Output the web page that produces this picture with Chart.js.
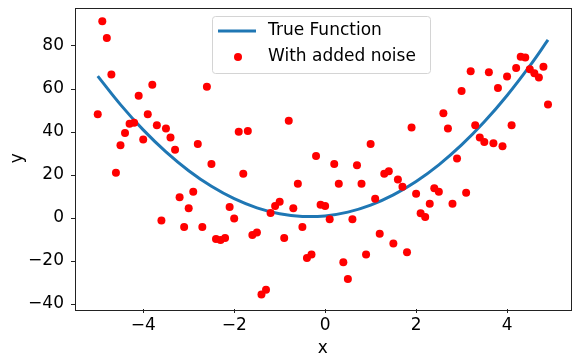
<!DOCTYPE html>
<html>
<head>
<meta charset="utf-8">
<script src="https://cdn.jsdelivr.net/npm/chart.js@4/dist/chart.umd.min.js"></script>
<style>
  html, body { margin: 0; padding: 0; background: #ffffff; }
  #wrap { width: 575px; height: 362px; position: relative; }
</style>
</head>
<body>
<div id="wrap"><canvas id="c" width="575" height="362"></canvas></div>
<script>
// ---- data ----
const curveLabel = 'True Function';
const noiseLabel = 'With added noise';

const curveX = [-5, -4.5, -4, -3.5, -3, -2.5, -2, -1.5, -1, -0.5, 0, 0.5, 1, 1.5, 2, 2.5, 3, 3.5, 4, 4.5, 4.9];
const curveY = [66, 52.75, 41, 30.75, 22, 14.75, 9, 4.75, 2, 0.75, 1, 2.75, 6, 10.75, 17, 24.75, 34, 44.75, 57, 70.75, 82.8];

const noiseX = [
  -5.0, -4.9, -4.8, -4.7, -4.6, -4.5, -4.4, -4.3, -4.2, -4.1,
  -4.0, -3.9, -3.8, -3.7, -3.6, -3.5, -3.4, -3.3, -3.2, -3.1,
  -3.0, -2.9, -2.8, -2.7, -2.6, -2.5, -2.4, -2.3, -2.2, -2.1,
  -2.0, -1.9, -1.8, -1.7, -1.6, -1.5, -1.4, -1.3, -1.2, -1.1,
  -1.0, -0.9, -0.8, -0.7, -0.6, -0.5, -0.4, -0.3, -0.2, -0.1,
  0.0, 0.1, 0.2, 0.3, 0.4, 0.5, 0.6, 0.7, 0.8, 0.9,
  1.0, 1.1, 1.2, 1.3, 1.4, 1.5, 1.6, 1.7, 1.8, 1.9,
  2.0, 2.1, 2.2, 2.3, 2.4, 2.5, 2.6, 2.7, 2.8, 2.9,
  3.0, 3.1, 3.2, 3.3, 3.4, 3.5, 3.6, 3.7, 3.8, 3.9,
  4.0, 4.1, 4.2, 4.3, 4.4, 4.5, 4.6, 4.7, 4.8, 4.9
];
const noiseY = [
  48.3, 91.5, 83.7, 66.7, 21.0, 33.9, 39.5, 43.8, 44.3, 56.9,
  36.5, 48.3, 62.0, 43.2, -1.1, 41.6, 37.4, 31.7, 9.7, -4.2,
  4.5, 12.2, 34.4, -4.2, 61.1, 25.1, -9.7, -10.2, -9.3, 5.1,
  -0.2, 40.1, 20.6, 40.5, -7.9, -6.7, -35.6, -33.4, 2.3, 5.6,
  7.6, -9.3, 45.2, 4.5, 15.9, -4.2, -18.6, -17.0, 28.8, 6.2,
  5.6, -0.6, 25.1, 15.9, -20.6, -28.3, -0.6, 24.6, 15.9, -17.0,
  34.4, 9.0, -7.3, 20.6, 21.7, -11.9, 17.9, 14.5, -15.9, 42.1,
  11.3, 2.2, 0.5, 6.7, 13.9, 12.2, 48.7, 41.6, 6.7, 27.7,
  59.1, 11.8, 68.2, 43.2, 37.4, 35.4, 67.8, 34.8, 60.5, 33.4,
  65.8, 43.2, 69.8, 75.0, 74.6, 69.2, 67.3, 65.3, 70.3, 52.8
];

const xTicks = [-4, -2, 0, 2, 4];
const yTicks = [-40, -20, 0, 20, 40, 60, 80];
const xTitle = 'x';
const yTitle = 'y';

// ---- chart ----
const FONT = "'DejaVu Sans', 'Liberation Sans', sans-serif";
const FS = 17;
const fmt = v => String(v).replace('-', '\u2212');

const framePlugin = {
  id: 'frame',
  afterDatasetsDraw(chart) {
    const {ctx, chartArea: a} = chart;
    ctx.save();
    ctx.strokeStyle = '#222';
    ctx.lineWidth = 1;
    ctx.strokeRect(Math.round(a.left) + 0.5, Math.round(a.top) + 0.5,
                   Math.round(a.right - a.left), Math.round(a.bottom - a.top));
    ctx.restore();
  }
};

const legendPlugin = {
  id: 'mplLegend',
  afterDraw(chart) {
    const {ctx} = chart;
    const ds = chart.data.datasets;
    const bx = 212.5, by = 16.5, bw = 218, bh = 57;
    ctx.save();
    ctx.beginPath();
    const r = 3;
    ctx.moveTo(bx + r, by);
    ctx.lineTo(bx + bw - r, by);
    ctx.quadraticCurveTo(bx + bw, by, bx + bw, by + r);
    ctx.lineTo(bx + bw, by + bh - r);
    ctx.quadraticCurveTo(bx + bw, by + bh, bx + bw - r, by + bh);
    ctx.lineTo(bx + r, by + bh);
    ctx.quadraticCurveTo(bx, by + bh, bx, by + bh - r);
    ctx.lineTo(bx, by + r);
    ctx.quadraticCurveTo(bx, by, bx + r, by);
    ctx.closePath();
    ctx.fillStyle = 'rgba(255,255,255,0.8)';
    ctx.fill();
    ctx.strokeStyle = '#d4d4d4';
    ctx.lineWidth = 1;
    ctx.stroke();

    const line = ds.find(d => d.label === curveLabel);
    const pts = ds.find(d => d.label === noiseLabel);
    ctx.beginPath();
    ctx.moveTo(218, 31);
    ctx.lineTo(256, 31);
    ctx.strokeStyle = line.borderColor;
    ctx.lineWidth = line.borderWidth;
    ctx.stroke();
    ctx.beginPath();
    ctx.arc(238, 57, pts.pointRadius, 0, Math.PI * 2);
    ctx.fillStyle = pts.backgroundColor;
    ctx.fill();
    ctx.fillStyle = '#000';
    ctx.font = FS + 'px ' + FONT;
    ctx.textBaseline = 'middle';
    ctx.textAlign = 'left';
    ctx.fillText(line.label, 268, 31);
    ctx.fillText(pts.label, 268, 57);
    ctx.restore();
  }
};

new Chart(document.getElementById('c'), {
  type: 'scatter',
  data: {
    datasets: [
      {
        label: noiseLabel,
        data: noiseX.map((x, i) => ({x, y: noiseY[i]})),
        backgroundColor: '#ff0000',
        borderColor: '#ff0000',
        pointRadius: 4,
        pointBorderWidth: 0,
        order: 0
      },
      {
        label: curveLabel,
        data: curveX.map((x, i) => ({x, y: curveY[i]})),
        showLine: true,
        borderColor: '#1f77b4',
        backgroundColor: '#1f77b4',
        borderWidth: 3,
        pointRadius: 0,
        tension: 0.4,
        fill: false,
        order: 1
      }
    ]
  },
  options: {
    responsive: false,
    animation: false,
    devicePixelRatio: 1,
    layout: { padding: { top: 7.5, right: 4.5, left: 0, bottom: 0 } },
    plugins: {
      legend: { display: false },
      tooltip: { enabled: false }
    },
    scales: {
      x: {
        type: 'linear',
        min: -5.5,
        max: 5.395,
        afterBuildTicks: s => { s.ticks = xTicks.map(v => ({value: v})); },
        afterFit: s => { s.height = 53; s.paddingLeft = 0; s.paddingRight = 0; },
        border: { display: false },
        grid: { drawOnChartArea: false, drawTicks: true, tickLength: 4, color: '#222', tickWidth: 1 },
        ticks: { color: '#000', font: { family: FONT, size: FS }, padding: 2, callback: fmt, maxRotation: 0 },
        title: { display: true, text: xTitle, color: '#000', font: { family: FONT, size: FS }, padding: { top: 0, bottom: 3 } }
      },
      y: {
        type: 'linear',
        min: -42.3,
        max: 97.9,
        afterBuildTicks: s => { s.ticks = yTicks.map(v => ({value: v})); },
        afterFit: s => { s.width = 75; s.paddingTop = 0; s.paddingBottom = 0; },
        border: { display: false },
        grid: { drawOnChartArea: false, drawTicks: true, tickLength: 4, color: '#222', tickWidth: 1 },
        ticks: { color: '#000', font: { family: FONT, size: FS }, padding: 7, callback: fmt },
        title: { display: true, text: yTitle, color: '#000', font: { family: FONT, size: FS }, padding: { top: 7, bottom: 0 } }
      }
    }
  },
  plugins: [framePlugin, legendPlugin]
});
</script>
</body>
</html>
